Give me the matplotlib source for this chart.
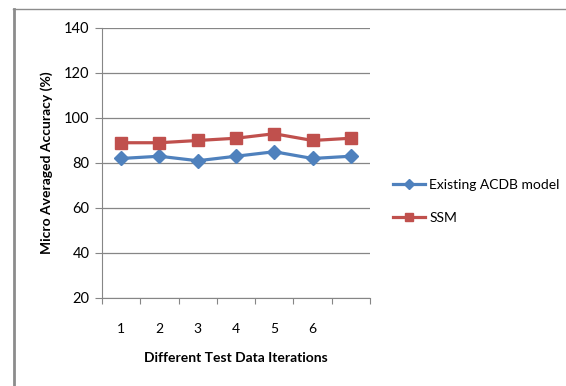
import matplotlib.pyplot as plt
from matplotlib.lines import Line2D

iterations = ["1", "2", "3", "4", "5", "6", ""]
existing_acdb = [82, 83, 81, 83, 85, 82, 83]
ssm = [89, 89, 90, 91, 93, 90, 91]

plt.rcParams['font.family'] = ['Lato', 'DejaVu Sans']

fig = plt.figure(figsize=(5.66, 3.86), dpi=100)
ax = fig.add_axes([0.1802, 0.228, 0.4735, 0.6995])

x = list(range(len(iterations)))
ax.plot(x, existing_acdb, color="#4F81BD", lw=2.3, marker="D", markersize=7,
        label="Existing ACDB model")
ax.plot(x, ssm, color="#C0504D", lw=2.3, marker="s", markersize=8,
        label="SSM")

ax.set_xlim(-0.5, len(x) - 0.5)
ax.set_ylim(20, 140)
ax.set_yticks(range(20, 141, 20))
ax.yaxis.grid(True, color="#868686", lw=0.9)
ax.set_axisbelow(True)

# category labels sit between the boundary ticks
ax.set_xticks([i - 0.5 for i in range(len(x) + 1)])
ax.set_xticklabels([])
ax.set_xticks(x, minor=True)
ax.set_xticklabels(iterations, minor=True)
ax.tick_params(axis="x", which="minor", length=0, pad=18, labelsize=10)
ax.tick_params(axis="x", which="major", length=4, color="#868686", direction="out")
ax.tick_params(axis="y", length=5, color="#868686", pad=4, labelsize=10.5)

for side in ["top", "right"]:
    ax.spines[side].set_visible(False)
for side in ["left", "bottom"]:
    ax.spines[side].set_color("#868686")

ax.set_xlabel("Different Test Data Iterations", fontsize=10, fontweight="bold", labelpad=12)
ax.set_ylabel("Micro Averaged Accuracy (%)", fontsize=10, fontweight="bold", labelpad=8)

ax.legend(loc="center left", bbox_to_anchor=(1.04, 0.357), frameon=False,
          fontsize=10, handlelength=2.3, handletextpad=0.3, labelspacing=1.5,
          markerscale=0.75)

# outer chart frame
fig.add_artist(Line2D([13 / 566, 1.0], [1 - 9 / 386, 1 - 9 / 386],
                      transform=fig.transFigure, color="#8c8c8c", lw=1))
fig.add_artist(Line2D([14 / 566, 14 / 566], [0, 1 - 9 / 386],
                      transform=fig.transFigure, color="#8c8c8c", lw=2))

fig.savefig("out.png", dpi=100)
